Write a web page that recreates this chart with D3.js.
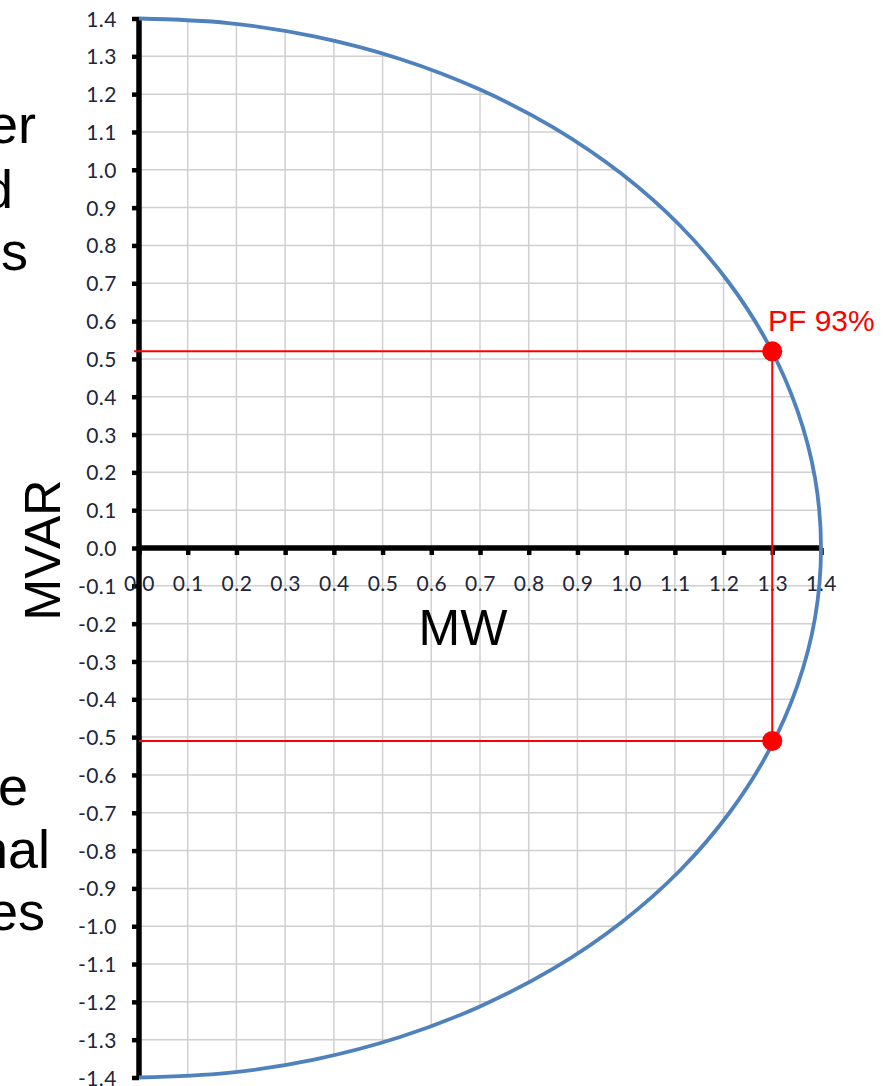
<!DOCTYPE html>
<html>
<head>
<meta charset="utf-8">
<script src="https://cdn.jsdelivr.net/npm/d3@7"></script>
<style>
  html, body { margin: 0; padding: 0; background: #fff; }
  svg { display: block; }
</style>
</head>
<body>
<svg id="chart" width="894" height="1086"></svg>
<script>
// Generator capability curve (MW, MVAR), read along the boundary from +Qmax to -Qmax
const capabilityMW   = [0, 0.183, 0.362, 0.536, 0.700, 0.852, 0.990, 1.111, 1.212, 1.293, 1.352, 1.388, 1.400,
                        1.388, 1.352, 1.293, 1.212, 1.111, 0.990, 0.852, 0.700, 0.536, 0.362, 0.183, 0];
const capabilityMVAR = [1.400, 1.388, 1.352, 1.293, 1.212, 1.111, 0.990, 0.852, 0.700, 0.536, 0.362, 0.183, 0,
                        -0.183, -0.362, -0.536, -0.700, -0.852, -0.990, -1.111, -1.212, -1.293, -1.352, -1.388, -1.400];

// Operating points at PF 93%
const operatingMW   = [1.3, 1.3];
const operatingMVAR = [0.52, -0.51];
const pfLabel = "PF 93%";

// Axis ticks
const xTicks = [0.0, 0.1, 0.2, 0.3, 0.4, 0.5, 0.6, 0.7, 0.8, 0.9, 1.0, 1.1, 1.2, 1.3, 1.4];
const yTicks = [1.4, 1.3, 1.2, 1.1, 1.0, 0.9, 0.8, 0.7, 0.6, 0.5, 0.4, 0.3, 0.2, 0.1, 0.0,
                -0.1, -0.2, -0.3, -0.4, -0.5, -0.6, -0.7, -0.8, -0.9, -1.0, -1.1, -1.2, -1.3, -1.4];

// Side text fragments of the surrounding slide
const sideTextTop    = ["er", "d", "s"];
const sideTextBottom = ["e", "nal", "es"];

const svg = d3.select("#chart");
const x = d3.scaleLinear().domain([0, 1.4]).range([139, 821]);
const y = d3.scaleLinear().domain([-1.4, 1.4]).range([1077.5, 18.5]);

const pts = capabilityMW.map((m, i) => [m, capabilityMVAR[i]]);
const line = d3.line().x(d => x(d[0])).y(d => y(d[1])).curve(d3.curveCatmullRom.alpha(0.5));

// Clip region: inside the capability curve
svg.append("defs").append("clipPath").attr("id", "inside")
  .append("path").attr("d", line(pts) + "Z");

// Gridlines
const grid = svg.append("g").attr("clip-path", "url(#inside)")
  .attr("stroke", "#d0d0d0").attr("stroke-width", 1.5);
grid.selectAll("line.v").data(xTicks.slice(1)).join("line")
  .attr("x1", d => x(d)).attr("x2", d => x(d))
  .attr("y1", y(1.4)).attr("y2", y(-1.4));
grid.selectAll("line.h").data(yTicks).join("line")
  .attr("x1", x(0)).attr("x2", x(1.4))
  .attr("y1", d => y(d)).attr("y2", d => y(d));

// Axes (plain hyphen for negatives)
const fmt = d => d.toFixed(1);
const yAxis = d3.axisLeft(y).tickValues(yTicks).tickFormat(fmt)
  .tickSize(7).tickPadding(15);
const gy = svg.append("g").attr("transform", `translate(${x(0)},0)`).call(yAxis);
const xAxis = d3.axisBottom(x).tickValues(xTicks).tickFormat(fmt)
  .tickSize(7).tickPadding(28.5);
const gx = svg.append("g").attr("transform", `translate(0,${y(0)})`).call(xAxis);

[gy, gx].forEach(g => {
  g.attr("font-family", "Lato, 'Open Sans', sans-serif").attr("font-size", 21);
  g.select(".domain").remove();
  g.selectAll(".tick line").attr("stroke", "#000").attr("stroke-width", 4.5);
  g.selectAll(".tick text")
    .style("font-family", "Lato, 'Open Sans', sans-serif")
    .style("font-size", "21px")
    .style("letter-spacing", "0.5px")
    .attr("fill", "#22263a");
});
gy.selectAll(".tick text").attr("dy", "0.36em");
gx.selectAll(".tick text").attr("dy", "0.36em");

svg.append("line").attr("x1", x(0)).attr("x2", x(0))
  .attr("y1", y(1.4) - 1).attr("y2", y(-1.4) + 1)
  .attr("stroke", "#000").attr("stroke-width", 5.5);
svg.append("line").attr("x1", x(0)).attr("x2", x(1.4))
  .attr("y1", y(0)).attr("y2", y(0))
  .attr("stroke", "#000").attr("stroke-width", 5.5);

// Capability curve
svg.append("path").attr("d", line(pts))
  .attr("fill", "none").attr("stroke", "#4f81bd").attr("stroke-width", 3.8);

// Operating point guides
const red = "#ff0000";
const guides = svg.append("g").attr("stroke", red).attr("stroke-width", 2);
guides.append("line")
  .attr("x1", x(-0.01)).attr("x2", x(operatingMW[0]))
  .attr("y1", y(operatingMVAR[0])).attr("y2", y(operatingMVAR[0]));
guides.append("line")
  .attr("x1", x(0)).attr("x2", x(operatingMW[1]))
  .attr("y1", y(operatingMVAR[1])).attr("y2", y(operatingMVAR[1]));
guides.append("line")
  .attr("x1", x(operatingMW[0])).attr("x2", x(operatingMW[1]))
  .attr("y1", y(operatingMVAR[0])).attr("y2", y(operatingMVAR[1]));

svg.selectAll("circle.op").data(operatingMW).join("circle")
  .attr("cx", d => x(d)).attr("cy", (d, i) => y(operatingMVAR[i]))
  .attr("r", 10).attr("fill", red);

svg.append("text").attr("x", 768).attr("y", 331)
  .attr("font-family", "'Liberation Sans', Arial, sans-serif").attr("font-size", 30)
  .attr("fill", red).text(pfLabel);

// Axis titles
const bigFont = "'Liberation Sans', Arial, sans-serif";
svg.append("text").attr("x", 463).attr("y", 645).attr("text-anchor", "middle")
  .attr("font-family", bigFont).attr("font-size", 50).attr("fill", "#000").text("MW");
svg.append("text").attr("transform", "translate(60,550) rotate(-90)").attr("text-anchor", "middle")
  .attr("font-family", bigFont).attr("font-size", 50).attr("fill", "#000").text("MVAR");

// Side text
const topPos = [[36, 143], [13, 208], [28, 270]];
const botPos = [[28, 805], [50, 868], [45, 930]];
svg.selectAll("text.sideTop").data(sideTextTop).join("text")
  .attr("x", (d, i) => topPos[i][0]).attr("y", (d, i) => topPos[i][1])
  .attr("text-anchor", "end").attr("font-family", bigFont).attr("font-size", 54)
  .attr("fill", "#000").text(d => d);
svg.selectAll("text.sideBot").data(sideTextBottom).join("text")
  .attr("x", (d, i) => botPos[i][0]).attr("y", (d, i) => botPos[i][1])
  .attr("text-anchor", "end").attr("font-family", bigFont).attr("font-size", 54)
  .attr("fill", "#000").text(d => d);
</script>
</body>
</html>
